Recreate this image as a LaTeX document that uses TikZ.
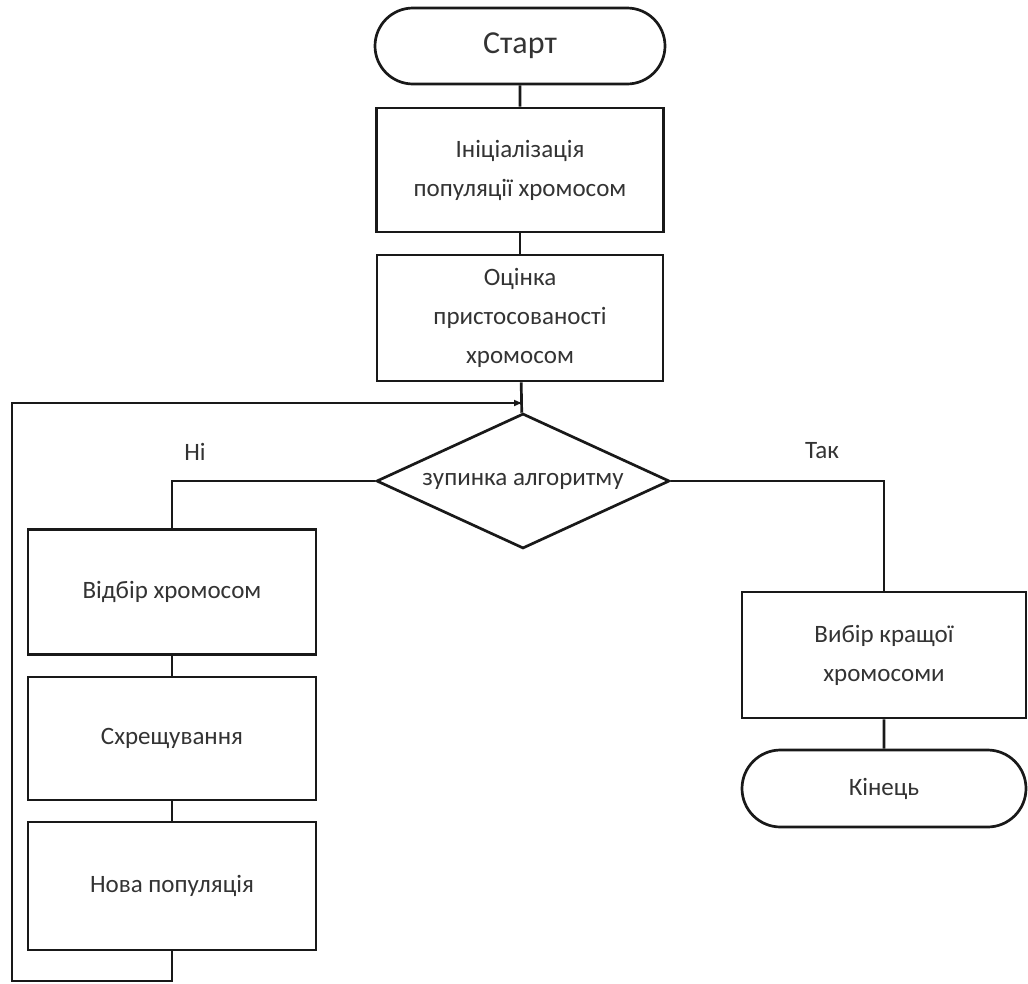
\documentclass[tikz,border=0pt]{standalone}
\usepackage{fontspec}
\setmainfont{Carlito}
\usetikzlibrary{shapes.geometric,shapes.misc,arrows.meta}
\begin{document}
\begin{tikzpicture}[x=1pt,y=-1pt,
  every node/.style={font=\fontsize{25}{39}\selectfont, text=black!80},
  line/.style={line width=2.7pt, draw=black!90},
  proc/.style={line, rectangle, inner sep=0pt, align=center},
  term/.style={line, rounded rectangle, inner sep=0pt, align=center},
  choice/.style={line, diamond, inner sep=0pt},
  lbl/.style={inner sep=0pt}]
\useasboundingbox (0,0) rectangle (1028,983);

% main column
\node[term, minimum width=290pt, minimum height=76pt,
      font=\fontsize{32}{38}\selectfont] (start) at (520,46) {Старт};
\node[proc, minimum width=287pt, minimum height=124pt] (init) at (520,170)
  {Ініціалізація\\популяції хромосом};
\node[proc, minimum width=286pt, minimum height=126pt] (eval) at (520,318)
  {Оцінка\\пристосованості\\хромосом};
\node[choice, minimum width=293pt, minimum height=135pt] (dec) at (523,481) {};
\node[lbl] (dectext) at (dec.center) {зупинка алгоритму};

% "no" branch
\node[proc, minimum width=288pt, minimum height=125pt] (sel) at (172,592)
  {Відбір хромосом};
\node[proc, minimum width=288pt, minimum height=123pt] (cross) at (172,738.5)
  {Схрещування};
\node[proc, minimum width=288pt, minimum height=128pt] (newpop) at (172,886)
  {Нова популяція};

% "yes" branch
\node[proc, minimum width=284pt, minimum height=126pt] (best) at (884,655)
  {Вибір кращої\\хромосоми};
\node[term, minimum width=284pt, minimum height=77pt] (finish) at (884,788.5)
  {Кінець};

\node[lbl] (no) at (195,452) {Ні};
\node[lbl] (yes) at (822,451) {Так};

\coordinate (merge) at (dec.north |- 0,403);
\coordinate (loopbl) at (12,981);

% connectors
\draw[line] (start) -- (init);
\draw[line] (init) -- (eval);
\draw[line] (eval) -- (dec);
\draw[line] (dec.west) -| (sel.north);
\draw[line] (sel) -- (cross);
\draw[line] (cross) -- (newpop);
\draw[line] (dec.east) -| (best.north);
\draw[line] (best) -- (finish);
\draw[line, -{Latex[length=9pt,width=7pt]}]
  (newpop.south) -- (newpop.south |- loopbl) -- (loopbl) -- (loopbl |- merge) -- (merge);
\end{tikzpicture}
\end{document}
